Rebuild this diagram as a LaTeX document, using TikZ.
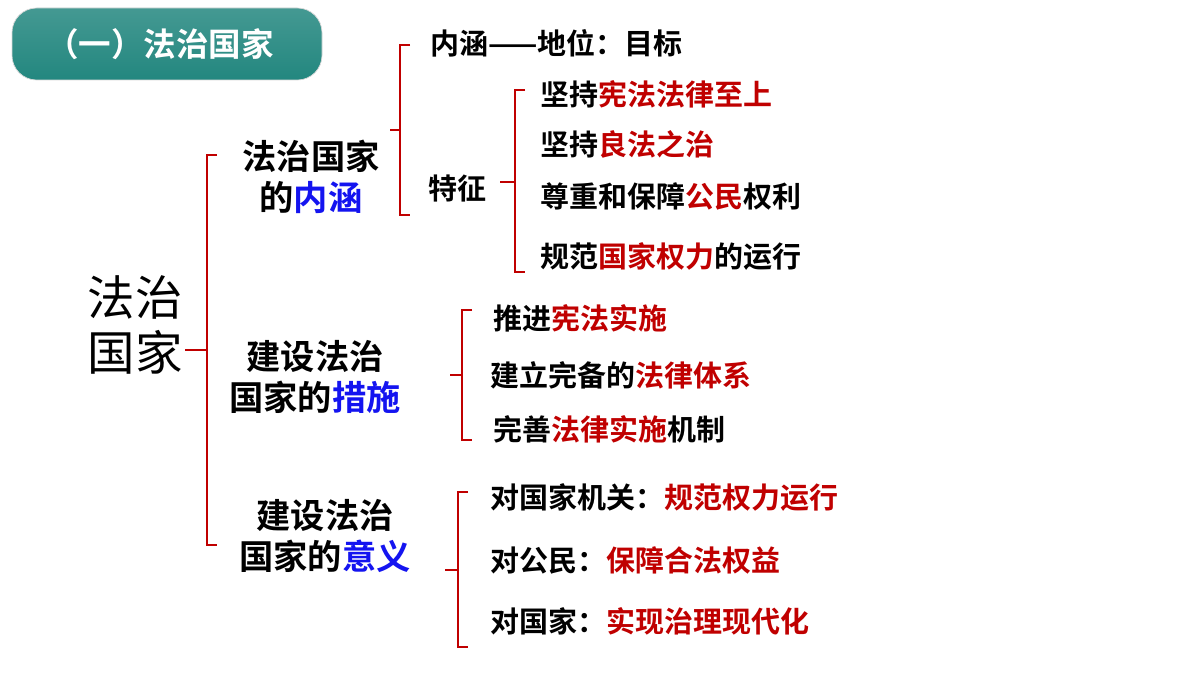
\documentclass[tikz,border=0pt]{standalone}
\usepackage{fontspec}
\setmainfont{Noto Sans CJK SC}[BoldFont={Noto Sans CJK SC Bold}]
\definecolor{keyred}{RGB}{192,0,0}
\definecolor{keyblue}{RGB}{20,20,240}
\definecolor{titlegreen}{RGB}{35,135,127}
\newcommand{\hl}[1]{\textcolor{keyred}{#1}}
\newcommand{\hb}[1]{\textcolor{keyblue}{#1}}
\tikzset{
  brace/.style={draw=keyred,line width=.8pt},
  item/.style={anchor=west,inner sep=0pt,font=\fontsize{16.5}{19}\selectfont\bfseries},
  mid/.style={inner sep=0pt,align=center,font=\fontsize{19.5}{23}\selectfont\bfseries}
}
% bracket: x, top, bottom, middle y, tick end
\newcommand{\bracketat}[5]{\draw[brace] (#1+10,#2) -- (#1,#2) -- (#1,#3) -- (#1+10,#3);
  \draw[brace] (#1,#4) -- (#5,#4);}
\begin{document}
\begin{tikzpicture}[x=0.02cm,y=-0.02cm]
\useasboundingbox[fill=white] (0,0) rectangle (1200,675);

%-------------------------------------------- Title
\shade[rounded corners=14pt,top color=titlegreen!85,bottom color=titlegreen,draw=gray!30]
  (12,8) rectangle (322,80);
\node[font=\fontsize{18.5}{22}\selectfont\bfseries,text=white] (title) at (160,44) {（一）法治国家};

%-------------------------------------------- Root
\node[inner sep=0pt,align=center,font=\fontsize{27}{31}\selectfont] (root) at (135,325) {法治\\国家};
\bracketat{207}{155}{545}{350}{185}

%-------------------------------------------- Meaning
\node[mid] (neihan) at (311,177) {法治国家\\的\hb{内涵}};
\bracketat{400}{45}{215}{130}{390}
\node[item] (diwei) at (430,43) {内涵——地位：目标};
\node[item] (tezheng) at (428,188) {特征};
\bracketat{515}{90}{272}{182}{500}
\node[item] (t1) at (540,94) {坚持\hl{宪法法律至上}};
\node[item] (t2) at (540,144) {坚持\hl{良法之治}};
\node[item] (t3) at (540,196) {尊重和保障\hl{公民}权利};
\node[item] (t4) at (540,257) {规范\hl{国家权力}的运行};

%-------------------------------------------- Measures
\node[mid] (cuoshi) at (315,377) {建设法治\\国家的\hb{措施}};
\bracketat{462}{310}{440}{375}{450}
\node[item] (c1) at (493,318) {推进\hl{宪法实施}};
\node[item] (c2) at (490,375) {建立完备的\hl{法律体系}};
\node[item] (c3) at (493,429) {完善\hl{法律实施}机制};

%-------------------------------------------- Significance
\node[mid] (yiyi) at (325,536) {建设法治\\国家的\hb{意义}};
\bracketat{458}{492}{647}{570}{445}
\node[item] (y1) at (490,497) {对国家机关：\hl{规范权力运行}};
\node[item] (y2) at (490,560) {对公民：\hl{保障合法权益}};
\node[item] (y3) at (490,621) {对国家：\hl{实现治理现代化}};
\end{tikzpicture}
\end{document}
